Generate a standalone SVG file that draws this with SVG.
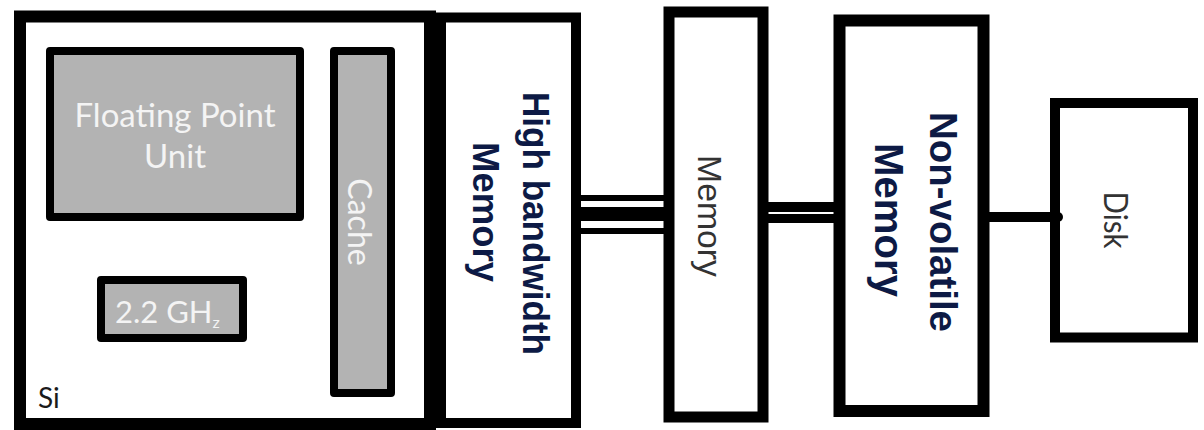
<svg xmlns="http://www.w3.org/2000/svg" width="1204" height="430" viewBox="0 0 1204 430">
<style>
.box{fill:#ffffff;stroke:#000000}
.unit{fill:#b3b3b3;stroke:#000000;stroke-width:8;stroke-linejoin:round}
.ut{font-family:Lato,"Open Sans",sans-serif;fill:#f4f4f4}
.reg{font-family:"Liberation Sans",Arial,sans-serif;fill:#333333;text-anchor:middle}
.bold{font-family:"Liberation Sans",Arial,sans-serif;font-weight:bold;fill:#0d1a45;text-anchor:middle}
.con{stroke:#000000;fill:none}
</style>
<rect width="1204" height="430" fill="#ffffff"/>
<g id="si">
  <rect class="box" x="20" y="16.5" width="410" height="407.5" stroke-width="12"/>
  <text x="38" y="408" font-family="Lato,'Open Sans',sans-serif" font-size="28" fill="#1a1a1a">Si</text>
</g>
<g id="fpu">
  <rect class="unit" x="50" y="51" width="250" height="166"/>
  <text class="ut" x="175" y="127" font-size="33" text-anchor="middle">Floating Point</text>
  <text class="ut" x="175" y="168" font-size="33" text-anchor="middle">Unit</text>
</g>
<g id="clock">
  <rect class="unit" x="101" y="280" width="142" height="58"/>
  <text class="ut" x="115" y="323" font-size="31">2.2 GH<tspan font-size="16" dy="5">z</tspan></text>
</g>
<g id="cache">
  <rect class="unit" x="334" y="51" width="57" height="342"/>
  <text class="ut" transform="translate(348,222) rotate(90)" font-size="32" text-anchor="middle">Cache</text>
</g>
<g id="hbm">
  <rect class="box" x="441" y="17.5" width="135" height="405.5" stroke-width="10"/>
  <text class="bold" transform="translate(523,223.5) rotate(90)" font-size="37" textLength="263" lengthAdjust="spacingAndGlyphs">High bandwidth</text>
  <text class="bold" transform="translate(473,212) rotate(90)" font-size="36" textLength="140" lengthAdjust="spacingAndGlyphs">Memory</text>
</g>
<g id="memory">
  <rect class="box" x="669" y="12" width="94" height="405" stroke-width="11"/>
  <text class="reg" transform="translate(698,216) rotate(90)" font-size="34" textLength="122" lengthAdjust="spacingAndGlyphs">Memory</text>
</g>
<g id="nvm">
  <rect class="box" x="839.5" y="20.5" width="144" height="390.5" stroke-width="12"/>
  <text class="bold" transform="translate(930,222) rotate(90)" font-size="39" textLength="220" lengthAdjust="spacingAndGlyphs">Non-volatile</text>
  <text class="bold" transform="translate(875,220) rotate(90)" font-size="40" textLength="154" lengthAdjust="spacingAndGlyphs">Memory</text>
</g>
<g id="disk">
  <rect class="box" x="1055" y="103" width="138" height="234.5" stroke-width="10"/>
  <text transform="translate(1104,220) rotate(90)" font-family="Lato,'Open Sans',sans-serif" font-size="33" fill="#333333" text-anchor="middle" textLength="57" lengthAdjust="spacingAndGlyphs">Disk</text>
</g>
<g id="connectors">
  <line class="con" x1="580" y1="198" x2="664" y2="198" stroke-width="6"/>
  <line class="con" x1="580" y1="214" x2="664" y2="214" stroke-width="14"/>
  <line class="con" x1="580" y1="231" x2="664" y2="231" stroke-width="6"/>
  <line class="con" x1="768" y1="207" x2="834" y2="207" stroke-width="10"/>
  <line class="con" x1="768" y1="218.5" x2="834" y2="218.5" stroke-width="9"/>
  <line class="con" x1="989" y1="217" x2="1058" y2="217" stroke-width="10" stroke-linecap="round"/>
</g>
</svg>
